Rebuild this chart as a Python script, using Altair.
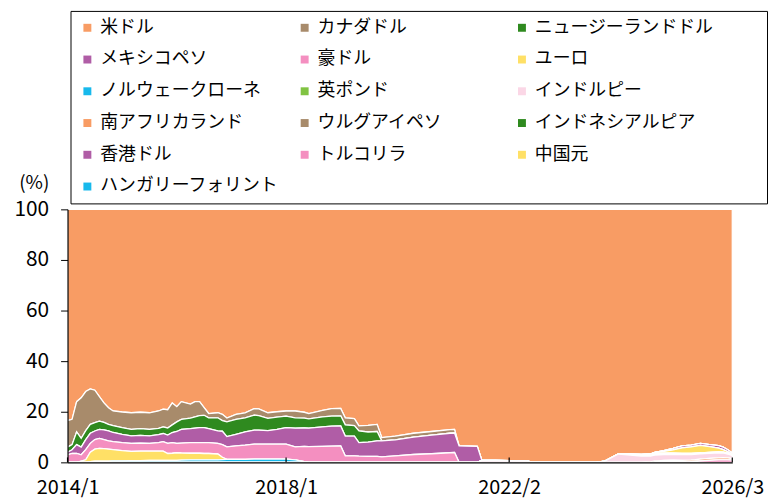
import altair as alt
import pandas as pd

FONT = "Noto Sans CJK JP"

# month index (0 = 2014/1 ... 146 = 2026/3)
months = [0, 1, 2, 3, 4, 5, 6, 7, 8, 9, 10, 12, 14, 16, 18, 20, 21, 22, 23, 24, 25, 27, 28, 29, 30, 31,
          33, 34, 35, 37, 39, 41, 42, 44, 46, 48, 50, 52, 53, 56, 58, 60, 61, 63, 64, 66, 68, 69, 72,
          76, 80, 84, 85, 86, 90,
          91, 94, 97, 101, 102, 116, 118, 121, 123, 126, 128, 129, 131, 133, 135, 137, 139, 141, 143,
          144, 145, 146]

tick_idx = [0, 48, 97, 146]
tick_labels = ["2014/1", "2018/1", "2022/2", "2026/3"]
y_ticks = [0, 20, 40, 60, 80, 100]

names = ["米ドル", "カナダドル", "ニュージーランドドル", "メキシコペソ", "豪ドル", "ユーロ",
         "ノルウェークローネ", "英ポンド", "インドルピー", "南アフリカランド", "ウルグアイペソ",
         "インドネシアルピア", "香港ドル", "トルコリラ", "中国元", "ハンガリーフォリント"]
colors = ["#F89C64", "#A88B6B", "#2F8A1F", "#B05DA6", "#F48FC0", "#FFE066", "#17B9EC",
          "#80C342", "#FBD7E6", "#F89C64", "#A88B6B", "#2F8A1F", "#B05DA6", "#F48FC0",
          "#FFE066", "#17B9EC"]

usd = [83.5, 83, 76, 74.5, 72, 71, 71.5, 74, 76.5, 78.4, 79.7, 80.1, 80.4, 80.2, 80.4, 79.7, 79, 79.2,
       76.5, 78, 76, 77, 76, 76, 78.4, 80.7, 80.4, 81, 82.5, 81, 80.4, 78.8, 78.9, 80.4, 80, 79.7,
       79.7, 80.2, 80.7, 79.5, 78.8, 78.7, 82.4, 82.7, 85.6, 85.4, 85, 90.2, 89.6, 88.5, 87.8, 87.1,
       87, 93.5, 93.7,
       99.2, 99.2, 99.3, 99.4, 100, 100, 99.5, 96.7, 96.7, 96.9, 96.7, 96.1, 95.4, 94.5, 93.5, 93.2,
       92.5, 93, 93.4, 94, 95, 96.3]
cad = [10.5, 10, 12, 16, 15.5, 14, 12.8, 9.7, 7.7, 6.6, 5.8, 6.2, 6.6, 6.5, 6.6, 6.9, 7.0, 7.2, 8.7,
       6.0, 7.0, 5.5, 6.0, 5.5, 3.0, 1.7, 2.0, 2.5, 1.5, 2.0, 2.0, 2.5, 2.6, 2.2, 2.1, 2.0, 2.7, 2.3,
       2.1, 2.5, 2.9, 2.9, 2.8, 2.8, 2.0, 2.6, 2.8, 1.3, 1.5, 1.5, 1.4, 1.4, 1.4, 0, 0,
       0, 0, 0, 0, 0, 0, 0, 0, 0, 0, 0, 0, 0, 0, 0, 0, 0, 0, 0, 0, 0, 0]
nzd = [2, 2, 5, 3.5, 3.5, 3.5, 3.3, 3.3, 3.0, 2.6, 2.7, 2.6, 2.5, 2.6, 2.5, 2.4, 2.6, 2.8, 3.0, 3.8,
       4.0, 4.2, 4.5, 4.8, 4.9, 4.3, 5.2, 4.2, 5.8, 5.9, 5.6, 6.0, 5.8, 4.9, 4.9, 4.6, 4.1, 3.9, 3.7,
       4.0, 4.0, 4.0, 4.4, 4.1, 4.6, 4.0, 3.7, 0, 0, 0, 0, 0, 0, 0, 0,
       0, 0, 0, 0, 0, 0, 0, 0, 0, 0, 0, 0, 0, 0, 0, 0, 0, 0, 0, 0, 0, 0]
mxn = [1, 1.5, 3.5, 3, 4, 4, 3.4, 3.5, 3.8, 3.9, 3.6, 3.3, 3.0, 3.1, 3.0, 3.2, 3.2, 3.3, 4.0, 4.7,
       5.4, 5.5, 5.7, 5.9, 5.9, 5.5, 4.9, 5.3, 4.1, 4.6, 5.2, 5.5, 5.5, 5.3, 5.8, 6.5, 7.4, 7.3, 7.3,
       7.7, 7.9, 7.9, 7.8, 7.8, 5.3, 5.6, 6.1, 6.3, 6.3, 6.9, 7.4, 7.7, 7.7, 6.5, 6.3,
       0, 0, 0, 0, 0, 0, 0, 0, 0, 0, 0, 0, 0.3, 0.6, 0.8, 0.7, 0.8, 0.8, 1.0, 1.0, 0.8, 0.5]
aud = [3, 3.5, 3.5, 2.5, 4, 3.5, 3.8, 4.0, 3.6, 3.3, 3.2, 3.2, 3.2, 3.2, 3.1, 3.4, 3.8, 4.0, 4.2, 3.7,
       3.9, 4.2, 4.2, 4.2, 4.3, 4.3, 4.2, 5.0, 4.9, 5.3, 5.6, 5.9, 5.9, 5.9, 5.9, 5.9, 5.1, 6.0, 6.2,
       6.3, 6.4, 6.5, 2.6, 2.6, 2.5, 2.4, 2.4, 2.2, 2.6, 3.1, 3.4, 3.8, 3.9, 0, 0,
       0, 0, 0, 0, 0, 0, 0, 0, 0, 0, 0, 0, 0, 0, 0, 0, 0, 0, 0, 0, 0, 0]
eur = [0, 0, 0, 0.5, 1, 3.7, 4.7, 5.0, 4.9, 4.7, 4.4, 4.0, 3.6, 3.7, 3.6, 3.6, 3.6, 2.7, 2.8, 3.0,
       2.8, 2.6, 2.6, 2.6, 2.5, 2.5, 2.3, 0.9, 0, 0, 0, 0, 0, 0, 0, 0, 0, 0, 0, 0, 0, 0, 0, 0, 0, 0,
       0, 0, 0, 0, 0, 0, 0, 0, 0,
       0, 0, 0, 0, 0, 0, 0, 0, 0, 0.3, 0.4, 0.5, 0.7, 1.3, 2.2, 2.6, 3.0, 2.3, 1.5, 1.0, 0.6, 0.3]
nok = [0, 0, 0, 0, 0, 0.3, 0.5, 0.5, 0.5, 0.5, 0.6, 0.6, 0.7, 0.7, 0.8, 0.8, 0.8, 0.8, 0.8, 0.8,
       0.9, 1.0, 1.0, 1.0, 1.0, 1.0, 1.0, 1.1, 1.2, 1.2, 1.2, 1.3, 1.3, 1.3, 1.3, 1.3, 1.0, 0.3, 0,
       0, 0, 0, 0, 0, 0, 0, 0, 0, 0, 0, 0, 0, 0, 0, 0,
       0, 0, 0, 0, 0, 0, 0, 0, 0, 0, 0, 0, 0, 0, 0, 0, 0, 0, 0, 0, 0, 0]
gbp = [0] * 55 + [0, 0, 0, 0, 0, 0, 0, 0, 0.3, 0.3, 0.4, 0.5, 0.5, 0.5, 0.4, 0.4, 0.3, 0.3, 0.3, 0.3, 0.3, 0.2]
inr = [0] * 55 + [0.8, 0.8, 0.7, 0.6, 0, 0, 0.5, 3.3, 3.0, 2.5, 2.3, 2.4, 2.3, 2.2, 2.3, 2.2, 2.1, 2.0, 2.0, 1.8, 1.5, 1.2]
zar = [0] * 55 + [0, 0, 0, 0, 0, 0, 0, 0, 0, 0, 0.2, 0.2, 0.3, 0.4, 0.5, 0.6, 0.7, 0.8, 0.8, 0.9, 0.8, 0.6]
idr = [0] * 55 + [0, 0, 0, 0, 0, 0, 0, 0, 0, 0, 0, 0.3, 0.5, 0.5, 0.3, 0, 0, 0, 0, 0, 0, 0]
tryl = [0] * 55 + [0, 0, 0, 0, 0, 0, 0, 0, 0, 0, 0, 0, 0, 0, 0, 0.3, 0.6, 0.8, 1.0, 1.0, 1.0, 0.9]

series = {
    "米ドル": usd, "カナダドル": cad, "ニュージーランドドル": nzd, "メキシコペソ": mxn,
    "豪ドル": aud, "ユーロ": eur, "ノルウェークローネ": nok, "英ポンド": gbp,
    "インドルピー": inr, "南アフリカランド": zar, "インドネシアルピア": idr, "トルコリラ": tryl,
}

rows = []
for k, name in enumerate(names):
    vals = series.get(name)
    if vals is None:
        continue
    for m, v in zip(months, vals):
        rows.append({"m": m, "cur": name, "v": v, "rank": k})
df = pd.DataFrame(rows)

label_expr = ""
for t, l in zip(tick_idx, tick_labels):
    label_expr += f"datum.value == {t} ? '{l}' : "
label_expr += "''"

W, H = 670, 255

x_enc = alt.X("m:Q", scale=alt.Scale(domain=[0, 146], nice=False, zero=False),
              axis=alt.Axis(values=tick_idx, labelExpr=label_expr, title=None, grid=False,
                            ticks=False, domainColor="black", domainWidth=1.2,
                            labelFontSize=20, labelPadding=15, labelColor="black",
                            labelFont=FONT, labelOverlap=False, labelFlush=False, zindex=1))

area = alt.Chart(df).mark_area(stroke="white", strokeWidth=1.3, interpolate="linear").encode(
    x=x_enc,
    y=alt.Y("v:Q", stack="zero", scale=alt.Scale(domain=[0, 100], nice=False),
            axis=alt.Axis(values=y_ticks, title="(%)", titleAngle=0, titleX=-34, titleY=-27,
                          titleAlign="center", titleBaseline="middle", titleFontSize=19,
                          titleFontWeight="normal", titleFont=FONT, titleColor="black",
                          grid=False, tickSize=7, tickColor="black", labelFontSize=21,
                          labelPadding=12, labelColor="black", labelFont=FONT,
                          domainColor="black", domainWidth=1.2, zindex=1)),
    color=alt.Color("cur:N", scale=alt.Scale(domain=names, range=colors),
                    legend=alt.Legend(title="\u3000", titleOrient="right", titlePadding=46,
                                      titleFontSize=18, orient="none", legendX=3, legendY=-200,
                                      columns=3, direction="horizontal", gridAlign="all",
                                      symbolType="square", symbolSize=64, symbolStrokeWidth=0,
                                      symbolOpacity=1, labelFontSize=18, labelFont=FONT,
                                      labelColor="black", labelLimit=400, labelOffset=4,
                                      rowPadding=14, columnPadding=17, padding=8,
                                      strokeColor="black", fillColor="white")),
    order=alt.Order("rank:Q", sort="descending"),
)

tick_df = pd.DataFrame({"m": tick_idx})
ticks = alt.Chart(tick_df).mark_rule(color="black", strokeWidth=1.2).encode(
    x=alt.X("m:Q"), y=alt.value(H - 5), y2=alt.value(H)
)

chart = alt.layer(area, ticks).properties(
    width=W, height=H, padding={"left": 6, "top": 0, "right": 0, "bottom": 0}
).configure(font=FONT).configure_view(stroke=None)

chart.save("out.html", embed_options={"renderer": "svg", "actions": False})
